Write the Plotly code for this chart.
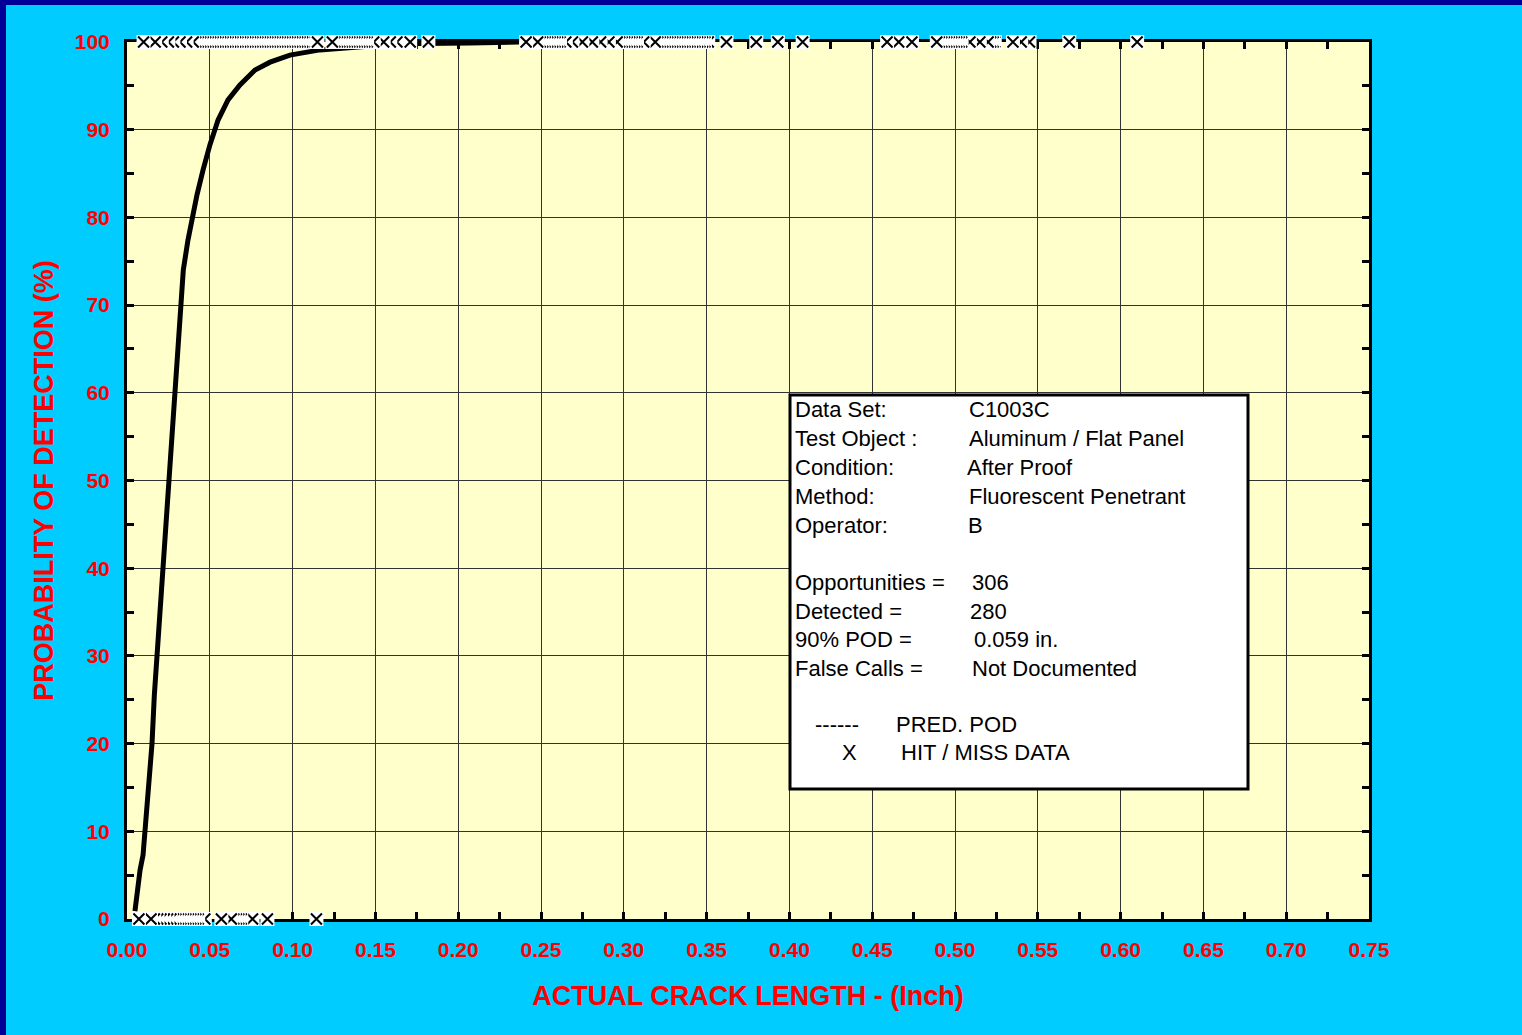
import plotly.graph_objects as go

# ---------------- data ----------------
# Predicted POD curve (crack length in inch, POD in %)
curve_x = [0.0048, 0.0060, 0.0079, 0.0097, 0.0109, 0.0127, 0.0139, 0.0151, 0.0165, 0.0181,
           0.0199, 0.0217, 0.0234, 0.0248, 0.0262, 0.0275, 0.0290, 0.0306, 0.0320, 0.0340,
           0.0368, 0.0399, 0.0423, 0.0459, 0.0501, 0.0550, 0.0610, 0.0682, 0.0773, 0.0864,
           0.0984, 0.1165, 0.1347, 0.1649, 0.2070, 0.2370]
curve_y = [0.9, 3.3, 5.6, 7.3, 10.0, 13.0, 15.8, 20.0, 25.5, 30.0,
           36.0, 40.5, 46.0, 50.0, 53.0, 56.5, 60.5, 66.0, 70.0, 74.0,
           77.4, 80.8, 82.6, 85.4, 88.3, 91.1, 93.4, 95.1, 96.8, 97.7,
           98.5, 99.1, 99.4, 99.8, 99.9, 100.0]

# Hit (detected, plotted at 100 %) crack lengths
hit_x = [0.010, 0.017, 0.021, 0.025, 0.028, 0.032, 0.036, 0.040,
         0.0415, 0.043, 0.0445, 0.046, 0.0475, 0.049, 0.0505, 0.052, 0.0535, 0.055,
         0.0565, 0.058, 0.0595, 0.061, 0.0625, 0.064, 0.0655, 0.067, 0.0685, 0.070,
         0.0715, 0.073, 0.0745, 0.076, 0.0775, 0.079, 0.0805, 0.082, 0.0835, 0.085,
         0.0865, 0.088, 0.0895, 0.091, 0.0925, 0.094, 0.0955, 0.097, 0.0985, 0.100,
         0.1015, 0.103, 0.1045, 0.106, 0.107, 0.115,
         0.124, 0.1255, 0.127, 0.1285, 0.130, 0.1315, 0.133, 0.1345, 0.136, 0.1375,
         0.139, 0.1405, 0.142, 0.1435, 0.145, 0.149, 0.155, 0.159, 0.163, 0.171, 0.182,
         0.241, 0.248, 0.2495, 0.251, 0.2525, 0.254, 0.2555, 0.257, 0.2585, 0.260,
         0.2615, 0.265, 0.269, 0.275, 0.281, 0.286, 0.291, 0.296, 0.2975, 0.299,
         0.3005, 0.302, 0.3035, 0.305, 0.3065, 0.308, 0.312, 0.319, 0.3205, 0.322,
         0.3235, 0.325, 0.3265, 0.328, 0.3295, 0.331, 0.3325, 0.334, 0.3355, 0.337,
         0.3385, 0.340, 0.3415, 0.343, 0.3445, 0.346, 0.3475, 0.349, 0.351,
         0.362, 0.380, 0.393, 0.408,
         0.459, 0.466, 0.474, 0.489, 0.4905, 0.492, 0.4935, 0.495, 0.4965, 0.498,
         0.4995, 0.501, 0.5025, 0.504, 0.509, 0.515, 0.520, 0.5215, 0.523, 0.524,
         0.535, 0.540, 0.545, 0.569, 0.610]
hit_pod = 100

# Miss (not detected, plotted at 0 %) crack lengths
miss_x = [0.0072, 0.0145, 0.0165, 0.0185, 0.0205, 0.0225, 0.0245, 0.0265, 0.028, 0.0295,
          0.031, 0.0325, 0.034, 0.0355, 0.037, 0.0385, 0.040, 0.0415, 0.043, 0.047,
          0.057, 0.063, 0.0645, 0.066, 0.0675, 0.069, 0.0758, 0.0848, 0.1144]
miss_pod = 0

x_ticks = [0.00, 0.05, 0.10, 0.15, 0.20, 0.25, 0.30, 0.35, 0.40, 0.45,
           0.50, 0.55, 0.60, 0.65, 0.70, 0.75]
y_ticks = [0, 10, 20, 30, 40, 50, 60, 70, 80, 90, 100]

info_labels = ["Data Set:", "Test Object :", "Condition:", "Method:", "Operator:",
               "Opportunities =", "Detected =", "90% POD =", "False Calls ="]
info_values = ["C1003C", "Aluminum / Flat Panel", "After Proof", "Fluorescent Penetrant", "B",
               "306", "280", "0.059 in.", "Not Documented"]
legend_symbols = ["------", "X"]
legend_names = ["PRED. POD", "HIT / MISS DATA"]

# ---------------- layout geometry (pixels) ----------------
W, H = 1522, 1035
L, R, T, B = 127, 153, 42, 116
PW, PH = W - L - R, H - T - B


def px(xp):
    return (xp - L) / PW


def py(yp):
    return (H - B - yp) / PH


FONT = "Liberation Sans, Arial, sans-serif"
RED = "#FF0000"


def marker_arrays(xs, yv):
    # each point = white box with an X on it; drawn from right to left so that
    # later boxes hide the left part of earlier crosses (as in the reference)
    X, Y, sym, size, col, lcol, lw = [], [], [], [], [], [], []
    for v in sorted(xs, reverse=True):
        X += [v, v]
        Y += [yv, yv]
        sym += ["square", "x-thin"]
        size += [14, 11]
        col += ["white", "black"]
        lcol += ["white", "black"]
        lw += [0, 2]
    return X, Y, dict(symbol=sym, size=size, color=col, opacity=1,
                      line=dict(color=lcol, width=lw))


fig = go.Figure()

fig.add_trace(go.Scatter(x=curve_x, y=curve_y, mode="lines",
                         line=dict(color="black", width=5), name="PRED. POD",
                         cliponaxis=False, showlegend=False))

hx, hy, hm = marker_arrays(hit_x, hit_pod)
fig.add_trace(go.Scatter(x=hx, y=hy, mode="markers", marker=hm, cliponaxis=False,
                         name="HIT", showlegend=False))
mx, my, mm = marker_arrays(miss_x, miss_pod)
fig.add_trace(go.Scatter(x=mx, y=my, mode="markers", marker=mm, cliponaxis=False,
                         name="MISS", showlegend=False))

tickfont = dict(family=FONT, size=21, color=RED, weight="bold")
titlefont = dict(family=FONT, size=27, color=RED, weight="bold")

fig.update_layout(
    width=W, height=H,
    template="none",
    paper_bgcolor="#00CCFF",
    plot_bgcolor="#FFFFCC",
    margin=dict(l=L, r=R, t=T, b=B, pad=0),
    showlegend=False,
    xaxis=dict(range=[0, 0.75], tickvals=x_ticks, tickformat=".2f",
               ticks="inside", ticklen=7, tickwidth=3, tickcolor="black",
               minor=dict(dtick=0.025, ticks="inside", ticklen=7, tickwidth=3,
                          tickcolor="black", showgrid=False),
               showgrid=True, gridcolor="#333333", gridwidth=1,
               showline=True, linecolor="black", linewidth=3, mirror="allticks",
               zeroline=False, layer="below traces", automargin=True,
               tickfont=tickfont, ticklabelstandoff=10,
               title=dict(text="ACTUAL CRACK LENGTH - (Inch)", font=titlefont, standoff=26)),
    yaxis=dict(range=[0, 100], tickvals=y_ticks,
               ticks="inside", ticklen=7, tickwidth=3, tickcolor="black",
               minor=dict(dtick=5, ticks="inside", ticklen=7, tickwidth=3,
                          tickcolor="black", showgrid=False),
               showgrid=True, gridcolor="#333333", gridwidth=1,
               showline=True, linecolor="black", linewidth=3, mirror="allticks",
               zeroline=False, layer="below traces", automargin=True,
               tickfont=tickfont, ticklabelstandoff=10,
               title=dict(text="PROBABILITY OF DETECTION (%)", font=titlefont, standoff=14)),
    yaxis2=dict(range=[0, 100], tickvals=y_ticks, overlaying="y", side="right",
                anchor="x", showgrid=False, ticks="", showline=False, zeroline=False,
                tickfont=tickfont, ticklabelstandoff=12, automargin=False),
)

shapes = [
    # information box
    dict(type="rect", xref="paper", yref="paper", x0=px(790), x1=px(1248),
         y0=py(789), y1=py(395), fillcolor="white",
         line=dict(color="black", width=3), layer="above"),
    # dark frame strips on the left and top edges of the picture
    dict(type="rect", xref="paper", yref="paper", x0=px(0), x1=px(6),
         y0=py(H), y1=py(0), fillcolor="#000099", line=dict(width=0), layer="above"),
    dict(type="rect", xref="paper", yref="paper", x0=px(0), x1=px(W),
         y0=py(5), y1=py(0), fillcolor="#000099", line=dict(width=0), layer="above"),
]
fig.update_layout(shapes=shapes)

annots = []
row_y = [409, 438, 467, 496, 525, 582, 611, 639, 668]
val_x = [969, 969, 967, 969, 968, 972, 970, 974, 972]
bodyfont = dict(family=FONT, size=22, color="black")
for lab, val, yy, vx in zip(info_labels, info_values, row_y, val_x):
    annots.append(dict(xref="paper", yref="paper", x=px(793), y=py(yy), text=lab,
                       showarrow=False, xanchor="left", yanchor="middle", font=bodyfont))
    annots.append(dict(xref="paper", yref="paper", x=px(vx - 2), y=py(yy), text=val,
                       showarrow=False, xanchor="left", yanchor="middle", font=bodyfont))
for sym, nm, yy, sx, nx in zip(legend_symbols, legend_names, [724, 753], [815, 842], [896, 901]):
    annots.append(dict(xref="paper", yref="paper", x=px(sx - 2), y=py(yy), text=sym,
                       showarrow=False, xanchor="left", yanchor="middle", font=bodyfont))
    annots.append(dict(xref="paper", yref="paper", x=px(nx - 2), y=py(yy), text=nm,
                       showarrow=False, xanchor="left", yanchor="middle", font=bodyfont))
fig.update_layout(annotations=annots)

fig.write_html("out.html", include_plotlyjs=True, config={"displayModeBar": False},
               post_script="document.body.style.margin='0';document.body.style.overflow='hidden';")
